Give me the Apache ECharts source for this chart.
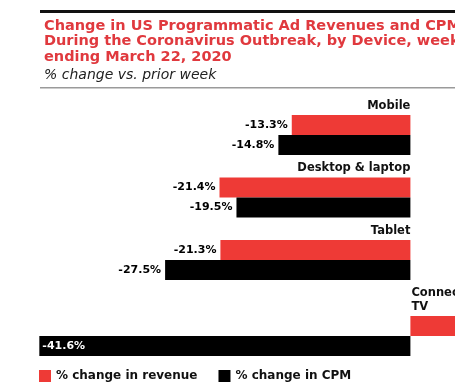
<!DOCTYPE html>
<html><head><meta charset="utf-8">
<script src="https://cdn.jsdelivr.net/npm/echarts@6/dist/echarts.min.js"></script>
<style>html,body{margin:0;padding:0;background:#fff}#c{width:455px;height:392px}</style>
</head><body><div id="c"></div>
<script>
const categoriesTop = ['Mobile', 'Desktop & laptop', 'Tablet'];
const revenueTop = [-13.3, -21.4, -21.3];
const cpmTop = [-14.8, -19.5, -27.5];
const categoriesBottom = ['Connected\nTV'];
const revenueBottom = [10.0];
const cpmBottom = [-41.6];
const seriesNames = ['% change in revenue', '% change in CPM'];

const RED = '#ee3a36', BLACK = '#000';
const FONT = '"DejaVu Sans", sans-serif';
const fmt = v => v.toFixed(1) + '%';

const X_MIN = -45, X_MAX = 5, GRID_LEFT = 9, GRID_W = 446;
// y axis sits on the zero line of the value axis
const ZERO_OFFSET = -(0 - X_MIN) / (X_MAX - X_MIN) * GRID_W;

const chart = echarts.init(document.getElementById('c'), null, {renderer: 'canvas'});

function valLabel(v, isCpmBig) {
  if (isCpmBig) return {show: true, position: 'insideLeft', color: '#fff', distance: 3, fontFamily: FONT, fontWeight: 'bold', fontSize: 11, formatter: p => fmt(p.value)};
  return {show: v < 0, position: 'left', color: '#000', distance: 4, fontFamily: FONT, fontWeight: 'bold', fontSize: 11, formatter: p => fmt(p.value)};
}

const xAxisBase = {type: 'value', min: X_MIN, max: X_MAX, show: false, splitLine: {show: false}};
const hiddenLine = {show: false};
chart.setOption({
  animation: false,
  title: {
    text: 'Change in US Programmatic Ad Revenues and CPM\nDuring the Coronavirus Outbreak, by Device, week\nending March 22, 2020',
    subtext: '% change vs. prior week',
    left: 39, top: 13, itemGap: 4,
    textStyle: {color: '#e0393e', fontFamily: FONT, fontWeight: 'bold', fontSize: 14.5, lineHeight: 15.5},
    subtextStyle: {color: '#222', fontFamily: FONT, fontStyle: 'italic', fontSize: 14}
  },
  graphic: [
    {type: 'rect', shape: {x: 40, y: 10, width: 420, height: 3}, style: {fill: '#111'}},
    {type: 'rect', shape: {x: 40, y: 87, width: 420, height: 1.5}, style: {fill: '#9a9a9a'}}
  ],
  legend: {
    left: 39, top: 370, padding: 0, icon: 'rect', itemWidth: 12, itemHeight: 12, itemGap: 21,
    textStyle: {fontFamily: FONT, fontWeight: 'bold', fontSize: 12, color: '#111'},
    data: seriesNames
  },
  grid: [
    {left: GRID_LEFT, width: GRID_W, top: 103.75, height: 187.5, outerBoundsMode: 'none', containLabel: false},
    {left: GRID_LEFT, width: GRID_W, top: 304.75, height: 62.5, outerBoundsMode: 'none', containLabel: false}
  ],
  xAxis: [Object.assign({gridIndex: 0}, xAxisBase), Object.assign({gridIndex: 1}, xAxisBase)],
  yAxis: [
    {type: 'category', gridIndex: 0, data: categoriesTop, inverse: true, position: 'left', offset: ZERO_OFFSET,
     axisLine: hiddenLine, axisTick: {show: false},
     axisLabel: {interval: 0, margin: 0, align: 'right', verticalAlign: 'bottom', padding: [0, 0, 23, 0],
                 fontFamily: FONT, fontWeight: 'bold', fontSize: 11.5, color: '#111'}},
    {type: 'category', gridIndex: 1, data: categoriesBottom, inverse: true, position: 'left', offset: ZERO_OFFSET,
     axisLine: hiddenLine, axisTick: {show: false},
     axisLabel: {interval: 0, inside: true, margin: 1, align: 'left', verticalAlign: 'bottom', padding: [0, 0, 22, 0], lineHeight: 14,
                 fontFamily: FONT, fontWeight: 'bold', fontSize: 11.5, color: '#111'}}
  ],
  series: [
    {name: seriesNames[0], type: 'bar', xAxisIndex: 0, yAxisIndex: 0, barWidth: 20, barGap: '0%',
     itemStyle: {color: RED}, data: revenueTop.map(v => ({value: v, label: valLabel(v)}))},
    {name: seriesNames[1], type: 'bar', xAxisIndex: 0, yAxisIndex: 0, barWidth: 20, barGap: '0%',
     itemStyle: {color: BLACK}, data: cpmTop.map(v => ({value: v, label: valLabel(v)}))},
    {name: seriesNames[0], type: 'bar', xAxisIndex: 1, yAxisIndex: 1, barWidth: 20, barGap: '0%',
     itemStyle: {color: RED}, data: revenueBottom.map(v => ({value: v, label: {show: false}}))},
    {name: seriesNames[1], type: 'bar', xAxisIndex: 1, yAxisIndex: 1, barWidth: 20, barGap: '0%',
     itemStyle: {color: BLACK}, data: cpmBottom.map(v => ({value: v, label: valLabel(v, true)}))}
  ]
});
</script></body></html>
